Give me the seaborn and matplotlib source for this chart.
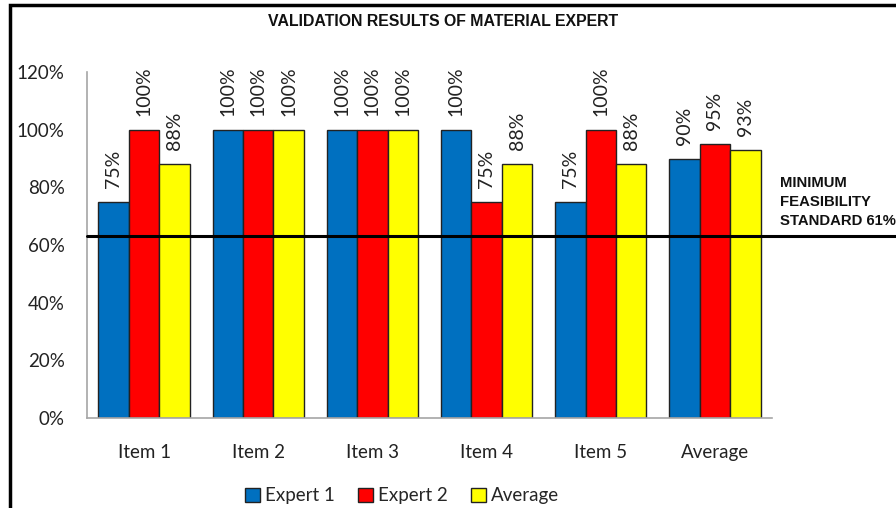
import matplotlib
matplotlib.use("Agg")
import matplotlib.pyplot as plt
import seaborn as sns
import pandas as pd
from matplotlib.patches import Rectangle

categories = ["Item 1", "Item 2", "Item 3", "Item 4", "Item 5", "Average"]
expert1 = [75, 100, 100, 100, 75, 90]
expert2 = [100, 100, 100, 75, 100, 95]
average = [88, 100, 100, 88, 88, 93]
series_names = ["Expert 1", "Expert 2", "Average"]
colors = ["#0070C0", "#FF0000", "#FFFF00"]
threshold = 63
yticks = [0, 20, 40, 60, 80, 100, 120]

rows = []
for name, vals in zip(series_names, [expert1, expert2, average]):
    for c, v in zip(categories, vals):
        rows.append({"cat": c, "series": name, "value": v})
df = pd.DataFrame(rows)

sns.set_style("white")
plt.rcParams["font.family"] = ["Lato", "DejaVu Sans"]

fig = plt.figure(figsize=(8.96, 5.08), dpi=100)
ax = fig.add_axes([87/896, 1-418/508, 685/896, 346/508])

sns.barplot(data=df, x="cat", y="value", hue="series", hue_order=series_names,
            palette=colors, width=0.8, edgecolor="#222222", linewidth=1.0,
            saturation=1, ax=ax, legend=True)

ax.set_ylim(0, 120)
ax.set_xlim(-0.5, 5.5)
ax.set_yticks(yticks)
ax.set_yticklabels([f"{t}%" for t in yticks], fontsize=13.5, color="#222222")
ax.tick_params(axis="y", length=0, pad=16)
ax.tick_params(axis="x", length=0, pad=19, labelsize=13.5, labelcolor="#222222")
ax.set_xlabel("")
ax.set_ylabel("")
for s in ["top", "right"]:
    ax.spines[s].set_visible(False)
for s in ["left", "bottom"]:
    ax.spines[s].set_color("#a6a6a6")
    ax.spines[s].set_linewidth(1.2)

for cont in ax.containers:
    labels = [f"{int(round(v))}%" for v in cont.datavalues]
    ax.bar_label(cont, labels=labels, rotation=90, padding=10, fontsize=14,
                 color="#222222")

ax.axhline(threshold, xmin=0, xmax=(896-87)/685, color="black", linewidth=2.2,
           clip_on=False, zorder=5)

fig.text(780/896, 1-176/508, "MINIMUM\nFEASIBILITY\nSTANDARD 61%",
         family="Liberation Sans", fontweight="bold", fontsize=10.7,
         ha="left", va="top", linespacing=1.45, color="#111111")

fig.text(443/896, 1-22/508, "VALIDATION RESULTS OF MATERIAL EXPERT",
         family="Liberation Sans", fontweight="bold", fontsize=11.4,
         ha="center", va="center", color="#111111")

ax.legend_.remove()
handles = [Rectangle((0, 0), 1, 1, facecolor=c, edgecolor="#222222", linewidth=1.0)
           for c in colors]
fig.legend(handles, series_names, loc="center", bbox_to_anchor=(402/896, 1-496/508),
           ncol=3, frameon=False, fontsize=13.5, handlelength=0.8, handleheight=0.8,
           handletextpad=0.3, columnspacing=1.2, borderaxespad=0)

fig.patches.append(Rectangle((10/896, -0.2), 2.0, 1.2 - 5/508,
                             transform=fig.transFigure, fill=False,
                             edgecolor="black", linewidth=2.5))

fig.savefig("out.png", dpi=100)
